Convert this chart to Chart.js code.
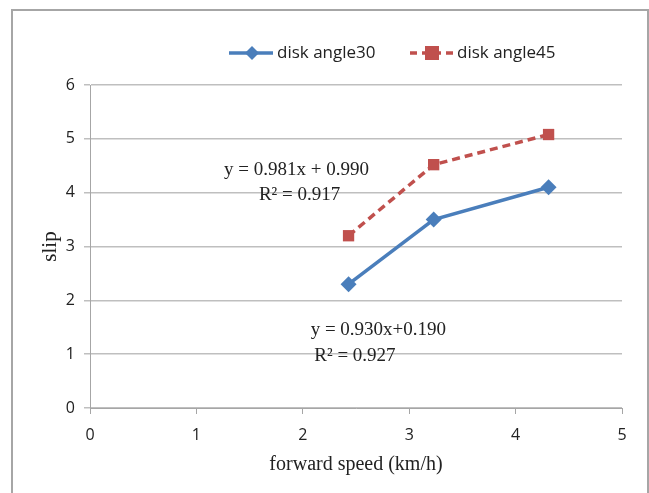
<!DOCTYPE html>
<html>
<head>
<meta charset="utf-8">
<script src="https://cdn.jsdelivr.net/npm/chart.js@4"></script>
<style>
  html, body { margin: 0; padding: 0; background: #fff; }
  #wrap { width: 649px; height: 493px; }
</style>
</head>
<body>
<div id="wrap"><canvas id="graphe" width="649" height="493"></canvas></div>
<script>
// donnees
const vitesse = [2.43, 3.23, 4.31];
const glissement30 = [2.3, 3.5, 4.1];
const glissement45 = [3.2, 4.52, 5.08];
const nomsSeries = ['disk angle30', 'disk angle45'];
const equations = [
  { texte: 'y = 0.981x + 0.990', x: 1.94, y: 4.42 },
  { texte: 'R\u00b2 = 0.917', x: 1.97, y: 3.96 },
  { texte: 'y = 0.930x+0.190', x: 2.71, y: 1.45 },
  { texte: 'R\u00b2 = 0.927', x: 2.49, y: 0.97 }
];

const bleu = '#4a7ebb';
const rouge = '#c0504d';

function points(xs, ys) {
  return xs.map((x, i) => ({ x: x, y: ys[i] }));
}

// cadre, legende et equations
const decor = {
  id: 'decor',
  beforeDraw(chart) {
    const c = chart.ctx;
    c.save();
    c.fillStyle = '#fff';
    c.fillRect(0, 0, chart.width, chart.height);
    c.strokeStyle = '#a6a6a6';
    c.lineWidth = 2;
    c.strokeRect(12, 10, 636, 520);
    c.restore();
  },
  afterDraw(chart) {
    const c = chart.ctx;
    const sx = chart.scales.x, sy = chart.scales.y;
    c.save();
    // legende
    const ly = 53;
    c.lineWidth = 3.5;
    c.strokeStyle = bleu;
    c.beginPath(); c.moveTo(229, ly); c.lineTo(273, ly); c.stroke();
    c.fillStyle = bleu;
    c.beginPath(); c.moveTo(252, ly - 7); c.lineTo(259, ly); c.lineTo(252, ly + 7); c.lineTo(245, ly); c.closePath(); c.fill();
    c.strokeStyle = rouge;
    c.setLineDash([7, 5]);
    c.beginPath(); c.moveTo(410, ly); c.lineTo(454, ly); c.stroke();
    c.setLineDash([]);
    c.fillStyle = rouge;
    c.fillRect(425, ly - 7, 14, 14);
    c.fillStyle = '#222';
    c.font = '17px "Open Sans", sans-serif';
    c.textBaseline = 'middle';
    c.textAlign = 'left';
    c.fillText(nomsSeries[0], 277, ly);
    c.fillText(nomsSeries[1], 457, ly);
    // equations des droites de tendance
    c.font = '19px "Liberation Serif", serif';
    c.textAlign = 'center';
    equations.forEach(e => {
      c.fillText(e.texte, sx.getPixelForValue(e.x), sy.getPixelForValue(e.y));
    });
    c.restore();
  }
};

const ctx = document.getElementById('graphe').getContext('2d');
const graphe = new Chart(ctx, {
  type: 'scatter',
  data: {
    datasets: [
      {
        label: nomsSeries[0],
        data: points(vitesse, glissement30),
        showLine: true,
        borderColor: bleu,
        backgroundColor: bleu,
        borderWidth: 3.5,
        pointStyle: 'rectRot',
        pointRadius: 8,
        pointBorderWidth: 0
      },
      {
        label: nomsSeries[1],
        data: points(vitesse, glissement45),
        showLine: true,
        borderColor: rouge,
        backgroundColor: rouge,
        borderWidth: 3.5,
        borderDash: [8, 5],
        pointStyle: 'rect',
        pointRadius: 8,
        pointBorderWidth: 0
      }
    ]
  },
  options: {
    responsive: false,
    animation: false,
    layout: { padding: { top: 85, right: 27, bottom: 0, left: 0 } },
    plugins: {
      legend: { display: false },
      tooltip: { enabled: false }
    },
    scales: {
      x: {
        type: 'linear',
        min: 0,
        max: 5,
        afterFit(s) { s.height = 85; },
        ticks: { stepSize: 1, padding: 12, color: '#222', font: { family: '"Open Sans", sans-serif', size: 16 } },
        grid: { drawOnChartArea: false, drawTicks: true, tickLength: 6, color: '#a6a6a6' },
        border: { color: '#a6a6a6', width: 1 },
        title: {
          display: true,
          text: 'forward speed (km/h)',
          color: '#222',
          font: { family: '"Liberation Serif", serif', size: 20 },
          padding: { top: 0, bottom: 16 }
        }
      },
      y: {
        min: 0,
        max: 6,
        afterFit(s) { s.width = 90; },
        ticks: { stepSize: 1, padding: 9, color: '#222', font: { family: '"Open Sans", sans-serif', size: 16 } },
        grid: { color: '#bfbfbf', tickLength: 6, lineWidth: 1.5 },
        border: { color: '#a6a6a6', width: 1 },
        title: {
          display: true,
          text: 'slip',
          color: '#222',
          font: { family: '"Liberation Serif", serif', size: 21 },
          padding: { top: 38, bottom: 0 }
        }
      }
    }
  },
  plugins: [decor]
});
</script>
</body>
</html>
